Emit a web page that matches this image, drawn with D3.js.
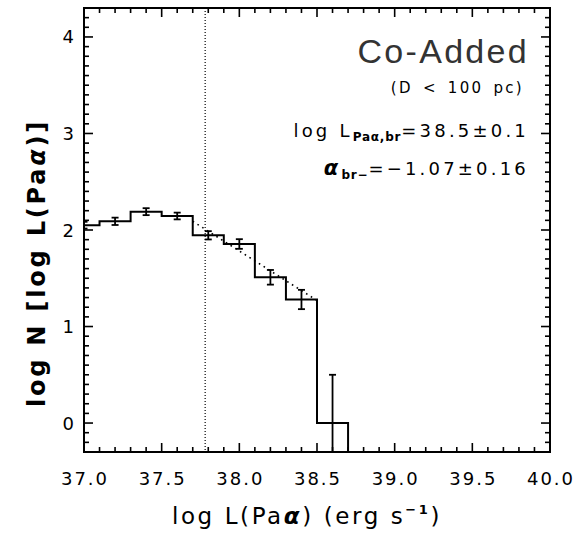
<!DOCTYPE html>
<html><head><meta charset="utf-8">
<script src="https://cdn.jsdelivr.net/npm/d3@7"></script>
<style>
body{margin:0;background:#fff;}
svg{display:block;}
text{font-family:"DejaVu Sans",sans-serif;fill:#000;}
</style></head>
<body><svg id="c" width="588" height="540"></svg>
<script>
// ---- data ----
const binCenters = [37.0, 37.2, 37.4, 37.6, 37.8, 38.0, 38.2, 38.4, 38.6];
const logN       = [2.05, 2.09, 2.19, 2.145, 1.945, 1.855, 1.51, 1.28, 0.0];
const errUp      = [0.035, 0.038, 0.036, 0.035, 0.043, 0.05, 0.076, 0.10, 0.50];
const errDn      = [0.035, 0.038, 0.036, 0.035, 0.043, 0.05, 0.076, 0.10, null];
const binWidth = 0.2;
const breakX = 37.78;
const fitX = [37.7, 38.5];
const fitY = [2.09, 1.27];
const xTicks = [37.0, 37.5, 38.0, 38.5, 39.0, 39.5, 40.0];
const yTicks = [0, 1, 2, 3, 4];

const svg = d3.select("#c");
const L = 84, R = 550, T = 8, B = 452;
const x = d3.scaleLinear().domain([37, 40]).range([L, R]);
const y = d3.scaleLinear().domain([-0.3, 4.3]).range([B, T]);

svg.append("defs").append("clipPath").attr("id","clip")
  .append("rect").attr("x",L).attr("y",T).attr("width",R-L).attr("height",B-T);
const g = svg.append("g").attr("clip-path","url(#clip)");

// vertical dotted break line
g.append("line").attr("x1",x(breakX)).attr("x2",x(breakX)).attr("y1",T).attr("y2",B)
  .attr("stroke","#000").attr("stroke-width",1.2).attr("stroke-dasharray","1,2");

// fit line
g.append("line").attr("x1",x(fitX[0])).attr("x2",x(fitX[1]))
  .attr("y1",y(fitY[0])).attr("y2",y(fitY[1]))
  .attr("stroke","#000").attr("stroke-width",1.6).attr("stroke-dasharray","1.6,4");

// histogram step
const pts = [];
binCenters.forEach((c,i)=>{
  pts.push([c-binWidth/2, logN[i]]);
  pts.push([c+binWidth/2, logN[i]]);
});
pts.push([binCenters[binCenters.length-1]+binWidth/2, -2]);
const line = d3.line().x(d=>x(d[0])).y(d=>y(d[1]));
g.append("path").attr("d", line(pts)).attr("fill","none")
  .attr("stroke","#000").attr("stroke-width",2);

// error bars
const cap = 3.5;
binCenters.forEach((c,i)=>{
  const cx = x(c);
  const yt = y(logN[i]+errUp[i]);
  const yb = errDn[i]==null ? B+20 : y(logN[i]-errDn[i]);
  g.append("line").attr("x1",cx).attr("x2",cx).attr("y1",yt).attr("y2",yb)
    .attr("stroke","#000").attr("stroke-width",1.8);
  g.append("line").attr("x1",cx-cap).attr("x2",cx+cap).attr("y1",yt).attr("y2",yt)
    .attr("stroke","#000").attr("stroke-width",1.8);
  if (errDn[i]!=null)
    g.append("line").attr("x1",cx-cap).attr("x2",cx+cap).attr("y1",yb).attr("y2",yb)
      .attr("stroke","#000").attr("stroke-width",1.8);
});

// axes
const minorX = d3.range(37.0, 40.0001, 0.1).map(v=>+v.toFixed(2));
const minorY = d3.range(-0.3, 4.3001, 0.1).map(v=>+v.toFixed(2));
function isMajor(v, step){ return Math.abs(v/step - Math.round(v/step)) < 1e-6; }
const axG = svg.append("g").attr("stroke","#000").attr("stroke-width",1.6);
minorX.forEach(v=>{
  const len = isMajor(v,0.5) ? 9 : 5;
  axG.append("line").attr("x1",x(v)).attr("x2",x(v)).attr("y1",B).attr("y2",B-len);
  axG.append("line").attr("x1",x(v)).attr("x2",x(v)).attr("y1",T).attr("y2",T+len);
});
minorY.forEach(v=>{
  const len = isMajor(v,1) ? 9 : 5;
  axG.append("line").attr("x1",L).attr("x2",L+len).attr("y1",y(v)).attr("y2",y(v));
  axG.append("line").attr("x1",R).attr("x2",R-len).attr("y1",y(v)).attr("y2",y(v));
});
svg.append("rect").attr("x",L).attr("y",T).attr("width",R-L).attr("height",B-T)
  .attr("fill","none").attr("stroke","#000").attr("stroke-width",2);

// tick labels
svg.selectAll(".xt").data(xTicks).enter().append("text")
  .attr("x",d=>x(d)+1).attr("y",485).attr("text-anchor","middle")
  .attr("font-size",18).attr("letter-spacing",2).text(d=>d.toFixed(1));
svg.selectAll(".yt").data(yTicks).enter().append("text")
  .attr("x",74).attr("y",d=>y(d)+6.5).attr("text-anchor","end")
  .attr("font-size",18).text(d=>d);

// axis titles
const xt = svg.append("text").attr("x",307).attr("y",524).attr("text-anchor","middle")
  .attr("font-size",23).attr("letter-spacing",2.6);
xt.append("tspan").text("log L(Pa");
xt.append("tspan").attr("font-style","italic").attr("font-weight",700).text("α");
xt.append("tspan").text(") (erg s");
xt.append("tspan").attr("font-size",13).attr("dy",-10).attr("font-weight",700).text("−1");
xt.append("tspan").attr("dy",10).text(")");

const yt = svg.append("text").attr("transform","translate(45,263) rotate(-90)")
  .attr("text-anchor","middle").attr("font-size",24).attr("font-weight",700)
  .attr("letter-spacing",2.8);
yt.append("tspan").text("log N [log L(Pa");
yt.append("tspan").attr("font-style","italic").text("α");
yt.append("tspan").text(")]");

// annotations
svg.append("text").attr("x",529).attr("y",63).attr("text-anchor","end")
  .attr("font-size",34).attr("letter-spacing",2.3)
  .style("font-family","'Liberation Sans',Arial,sans-serif")
  .style("fill","#333").text("Co-Added");
svg.append("text").attr("x",524).attr("y",93).attr("text-anchor","end")
  .attr("font-size",15).attr("letter-spacing",2.3).attr("word-spacing",3).text("(D < 100 pc)");
const a1 = svg.append("text").attr("x",529).attr("y",137).attr("text-anchor","end")
  .attr("font-size",18).attr("letter-spacing",3.2);
a1.append("tspan").text("log L");
a1.append("tspan").attr("font-size",12).attr("dy",4).attr("font-weight",700).attr("letter-spacing",0.8).text("Paα,br");
a1.append("tspan").attr("dy",-4).text("=38.5±0.1");
const a2 = svg.append("text").attr("x",529).attr("y",175).attr("text-anchor","end")
  .attr("font-size",18).attr("letter-spacing",3.2);
a2.append("tspan").attr("font-weight",700).attr("font-style","italic").attr("font-size",21).text("α");
a2.append("tspan").attr("font-size",12).attr("dy",4).attr("font-weight",700).attr("letter-spacing",0.8).text("br−");
a2.append("tspan").attr("dy",-4).text("=−1.07±0.16");
</script></body></html>
